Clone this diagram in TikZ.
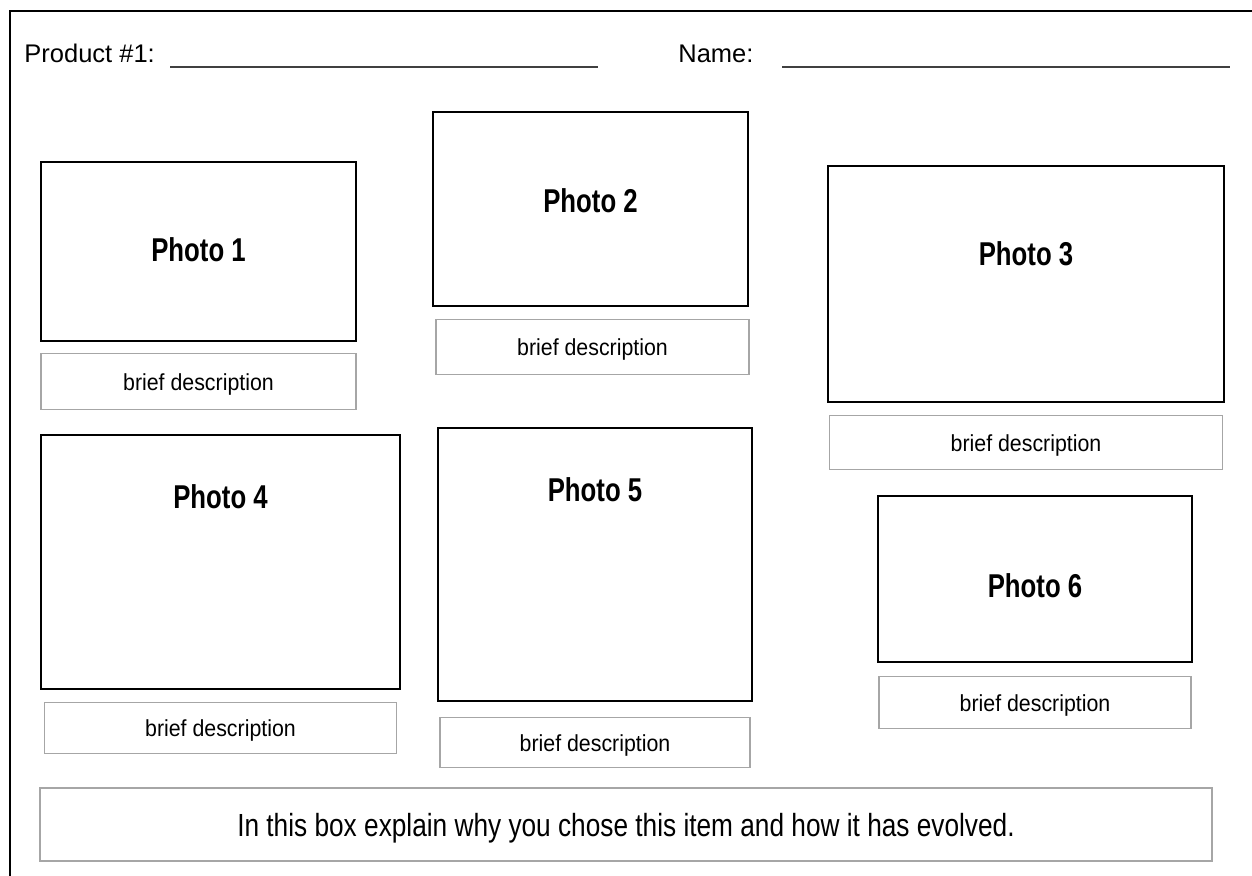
\documentclass[tikz,border=0pt]{standalone}
\usepackage{fontspec}
\setmainfont{Liberation Sans}
\newfontfamily\labelfont[FakeStretch=0.78]{Liberation Sans}
\newfontfamily\descfont[FakeStretch=0.92]{Liberation Sans}
\newfontfamily\notefont[FakeStretch=0.82]{Liberation Sans}
\usetikzlibrary{positioning}
\definecolor{ink}{HTML}{000000}
\definecolor{rule}{HTML}{A6A6A6}
\tikzset{
  photo/.style={draw=ink,line width=0.8pt,inner sep=0pt},
  desc/.style={draw=rule,line width=0.8pt,inner sep=0pt,align=center,text depth=0pt,text=ink,font=\descfont\fontsize{11.6}{13}\selectfont},
  phlabel/.style={inner sep=0pt,text=ink,font=\labelfont\bfseries\fontsize{16.5}{18}\selectfont},
  head/.style={inner sep=0pt,anchor=base west,text=ink,font=\fontsize{12.75}{15}\selectfont},
  blank/.style={draw=ink!75,line width=0.7pt}
}

\begin{document}
\begin{tikzpicture}[x=0.5pt,y=-0.5pt,node distance=6pt]
    \useasboundingbox (0,0) rectangle (1252,875);
    \draw[line width=1pt] (10,885) -- (10,11) -- (1262,11);

    % header
    \node[head] (prod) at (24,62) {Product \#1:};
    \node[head] (name) at (678,62) {Name:};
    \draw[blank] (170,67) -- (598,67);
    \draw[blank] (782,67) -- (1230,67);

    % photo boxes
    \node[photo,minimum width=157.5pt,minimum height=89.5pt] (ph1) at (198.5,251.5) {};
    \node[photo,minimum width=157.5pt,minimum height=97pt] (ph2) at (590.5,209) {};
    \node[photo,minimum width=198pt,minimum height=118pt] (ph3) at (1026,284) {};
    \node[photo,minimum width=179.5pt,minimum height=127pt] (ph4) at (220.5,562) {};
    \node[photo,minimum width=157pt,minimum height=136.5pt] (ph5) at (595,564.5) {};
    \node[photo,minimum width=157pt,minimum height=83pt] (ph6) at (1035,579) {};

    \node[phlabel] (lab1) at ([yshift=-44pt]ph1.north) {Photo 1};
    \node[phlabel] (lab2) at ([yshift=-44.5pt]ph2.north) {Photo 2};
    \node[phlabel] (lab3) at ([yshift=-44.5pt]ph3.north) {Photo 3};
    \node[phlabel] (lab4) at ([yshift=-31pt]ph4.north) {Photo 4};
    \node[phlabel] (lab5) at ([yshift=-31pt]ph5.north) {Photo 5};
    \node[phlabel] (lab6) at ([yshift=-45pt]ph6.north) {Photo 6};

    % descriptions
    \node[desc,below=5.5pt of ph1,minimum width=157.5pt,minimum height=28pt] (d1) {brief description};
    \node[desc,below=6pt of ph2,xshift=1pt,minimum width=156.5pt,minimum height=27.5pt] (d2) {brief description};
    \node[desc,below=6pt of ph3,minimum width=196.5pt,minimum height=27pt] (d3) {brief description};
    \node[desc,below=6pt of ph4,minimum width=176pt,minimum height=25.5pt] (d4) {brief description};
    \node[desc,below=7.5pt of ph5,minimum width=155pt,minimum height=25pt] (d5) {brief description};
    \node[desc,below=6.5pt of ph6,minimum width=156pt,minimum height=26pt] (d6) {brief description};

    % explanation box
    \node[desc,minimum width=586pt,minimum height=36.5pt,font=\notefont\fontsize{16}{18}\selectfont] (note) at (626,824.5) {In this box explain why you chose this item and how it has evolved.};
\end{tikzpicture}
\end{document}
